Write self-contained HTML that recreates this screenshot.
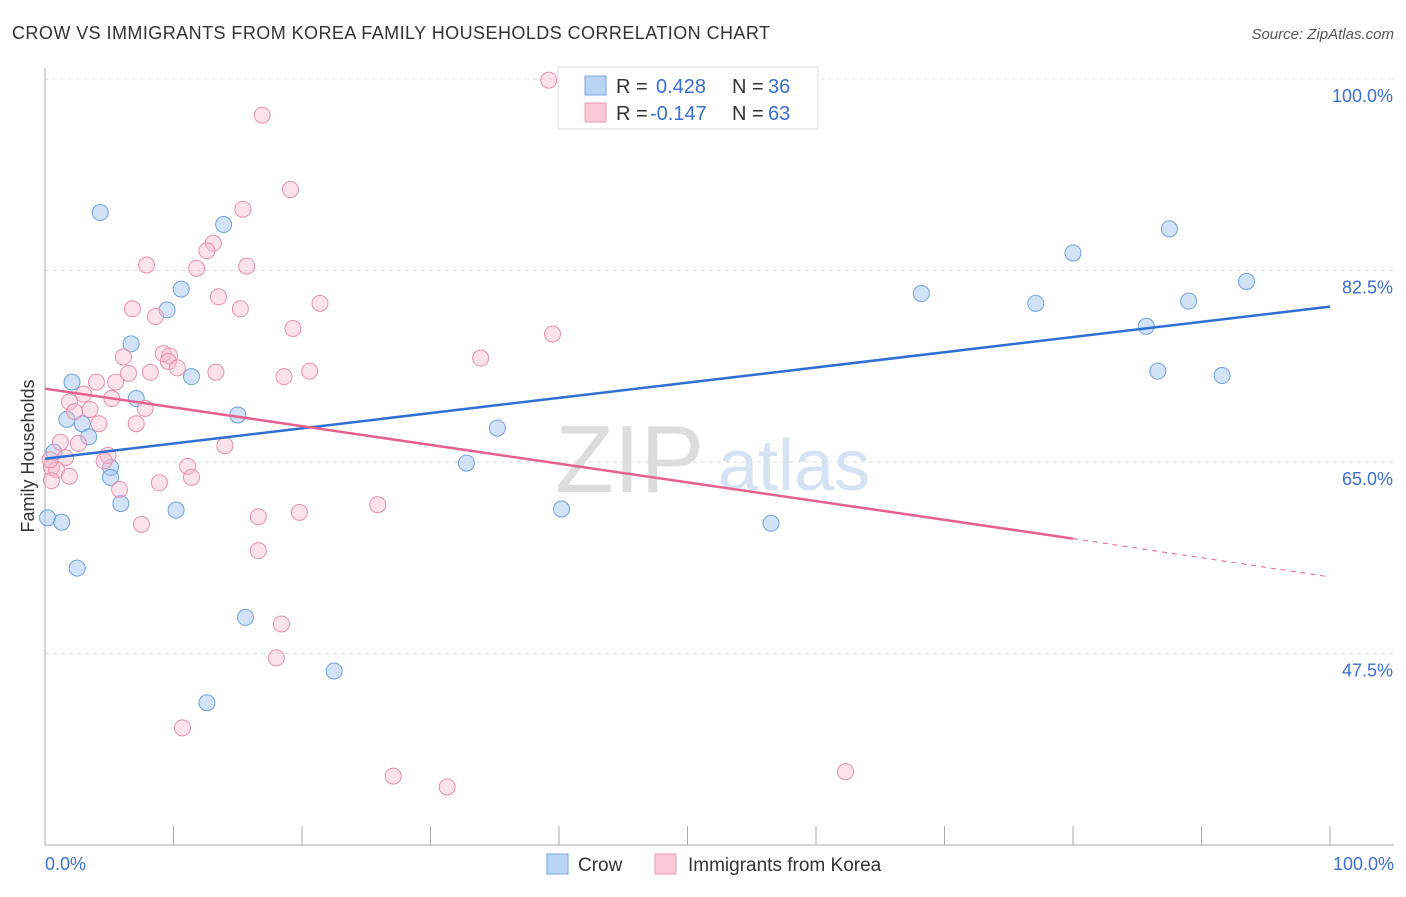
<!DOCTYPE html>
<html><head><meta charset="utf-8"><style>
body{margin:0;background:#fff;font-family:"Liberation Sans",sans-serif}
svg text{font-family:"Liberation Sans",sans-serif}
</style></head><body>
<svg id="chart" width="1406" height="892">
<text x="12" y="39" font-size="18" fill="#333" textLength="758">CROW VS IMMIGRANTS FROM KOREA FAMILY HOUSEHOLDS CORRELATION CHART</text>
<text x="1394" y="39" font-size="15" fill="#555" font-style="italic" text-anchor="end">Source: ZipAtlas.com</text>
<text x="555" y="492" font-size="96" fill="#ddd" font-family="Liberation Serif">ZIP</text>
<text x="718" y="490" font-size="72" fill="#d4e2f4">atlas</text>
<g id="grid"></g><g id="axes"></g><g id="marks"></g>
<text transform="translate(34,456) rotate(-90)" font-size="18" fill="#333" text-anchor="middle">Family Households</text>
<text x="45" y="870" font-size="18" fill="#3b6fd1">0.0%</text>
<text x="1394" y="870" font-size="18" fill="#3b6fd1" text-anchor="end">100.0%</text>
<g>
<rect x="558" y="67" width="260" height="62" fill="#fff" stroke="#ddd"/>
<rect x="585" y="76" width="21" height="19" fill="#b9d3f5" stroke="#7aa6e6"/>
<rect x="585" y="103" width="21" height="19" fill="#fbc8d6" stroke="#ee9ab4"/>
<text x="616" y="93" font-size="20" fill="#333">R = </text><text x="656" y="93" font-size="20" fill="#3b6fd1">0.428</text>
<text x="732" y="93" font-size="20" fill="#333">N = </text><text x="768" y="93" font-size="20" fill="#3b6fd1">36</text>
<text x="616" y="120" font-size="20" fill="#333">R = </text><text x="650" y="120" font-size="20" fill="#3b6fd1">-0.147</text>
<text x="732" y="120" font-size="20" fill="#333">N = </text><text x="768" y="120" font-size="20" fill="#3b6fd1">63</text>
</g>
<g>
<rect x="547" y="854" width="21" height="20" fill="#b9d3f5" stroke="#7aa6e6"/>
<text x="578" y="871" font-size="19" fill="#333">Crow</text>
<rect x="655" y="854" width="21" height="20" fill="#fbc8d6" stroke="#ee9ab4"/>
<text x="688" y="871" font-size="19" fill="#333">Immigrants from Korea</text>
</g>
</svg>
<script>
const yTicks=[47.5,65.0,82.5,100.0];
const crowX=[0.2,1.3,0.7,1.7,2.1,2.9,3.4,4.3,2.5,5.1,5.1,5.9,6.7,7.1,9.5,10.6,11.4,10.2,13.9,15.0,15.6,12.6,22.5,32.8,35.2,40.2,56.5,68.2,77.1,80.0,85.7,86.6,87.5,89.0,91.6,93.5];
const crowY=[59.9,59.5,65.9,68.9,72.3,68.5,67.3,87.8,55.3,64.5,63.6,61.2,75.8,70.8,78.9,80.8,72.8,60.6,86.7,69.3,50.8,43.0,45.9,64.9,68.1,60.7,59.4,80.4,79.5,84.1,77.4,73.3,86.3,79.7,72.9,81.5];
const korX=[39.2,16.9,19.1,15.4,13.1,12.6,7.9,11.8,15.7,13.5,6.8,15.2,21.4,8.6,19.3,39.5,9.2,6.1,9.7,9.6,33.9,10.3,8.2,13.3,6.5,20.6,18.6,4.0,5.5,3.0,5.2,1.9,7.8,2.3,3.5,4.2,7.1,2.6,1.2,14.0,4.9,1.6,4.6,11.1,0.5,0.9,11.4,1.9,0.5,8.9,5.8,25.9,19.8,16.6,7.5,16.6,18.4,18.0,10.7,27.1,31.3,62.3,0.4];
const korY=[99.9,96.7,89.9,88.1,85.0,84.3,83.0,82.7,82.9,80.1,79.0,79.0,79.5,78.3,77.2,76.7,74.9,74.6,74.7,74.2,74.5,73.6,73.2,73.2,73.1,73.3,72.8,72.3,72.3,71.2,70.8,70.5,69.9,69.6,69.8,68.5,68.5,66.7,66.8,66.5,65.6,65.4,65.1,64.6,64.5,64.3,63.6,63.7,63.3,63.1,62.5,61.1,60.4,60.0,59.3,56.9,50.2,47.1,40.7,36.3,35.3,36.7,65.2];
const crowTrend=[65.3,79.2];
const korTrend=[71.7,58.0,54.5];
const xs=v=>45+v*12.85, ys=v=>462-(v-65)*10.943;
const NS="http://www.w3.org/2000/svg";
function mk(p,t,a){const e=document.createElementNS(NS,t);for(const k in a)e.setAttribute(k,a[k]);document.getElementById(p).appendChild(e);return e;}
yTicks.forEach(t=>{
 const l=mk('grid','line',{x1:45,x2:1394,y1:ys(t),y2:ys(t),stroke:'#ddd','stroke-dasharray':'4,4'});
 
 
 const tx=mk('grid','text',{x:1393,y:ys(t)+23,'font-size':18,fill:'#3b6fd1','text-anchor':'end'});
 tx.textContent=t.toFixed(1)+'%';
 
 
});
mk('axes','line',{x1:45,x2:45,y1:68,y2:845,stroke:'#aaa'});
mk('axes','line',{x1:45,x2:1394,y1:845,y2:845,stroke:'#aaa'});
for(let i=0;i<=10;i++){const t=mk('axes','line',{x1:xs(i*10),x2:xs(i*10),y1:826,y2:845,stroke:'#aaa'});
 
 }
crowX.forEach((x,i)=>{const c=mk('marks','circle',{cx:xs(x),cy:ys(crowY[i]),r:8,fill:'rgba(168,200,240,0.5)',stroke:'#6fa0e0','stroke-width':1});
 
 });
korX.forEach((x,i)=>{const c=mk('marks','circle',{cx:xs(x),cy:ys(korY[i]),r:8,fill:'rgba(248,184,204,0.4)',stroke:'#e890ac','stroke-width':1});
 
 });
const bl=mk('marks','line',{x1:xs(0),y1:ys(crowTrend[0]),x2:xs(100),y2:ys(crowTrend[1]),stroke:'#2e6fd6','stroke-width':2.5});


const pl=mk('marks','line',{x1:xs(0),y1:ys(korTrend[0]),x2:xs(80),y2:ys(korTrend[1]),stroke:'#e8608c','stroke-width':2.5});


const pd=mk('marks','line',{x1:xs(80),y1:ys(korTrend[1]),x2:xs(100),y2:ys(korTrend[2]),stroke:'#e8608c','stroke-width':1,'stroke-dasharray':'5,5'});


</script>
</body></html>
